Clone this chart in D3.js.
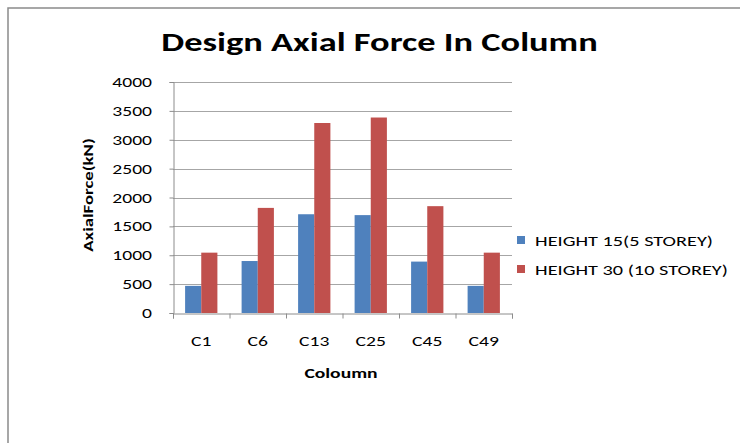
<!DOCTYPE html>
<html>
<head>
<meta charset="utf-8">
<script src="https://cdn.jsdelivr.net/npm/d3@7"></script>
<style>
  html, body { margin: 0; padding: 0; background: #fff; }
  svg { display: block; }
  text { font-family: Carlito, Calibri, Lato, "Open Sans", sans-serif; fill: #000; }
</style>
</head>
<body>
<script>
// Column labels and design axial forces (kN)
const columns = ["C1", "C6", "C13", "C25", "C45", "C49"];
const seriesNames = ["HEIGHT 15(5 STOREY)", "HEIGHT 30 (10 STOREY)"];
const height15 = [470, 900, 1710, 1695, 890, 470];
const height30 = [1045, 1820, 3290, 3385, 1850, 1045];
const seriesColors = ["#4F81BD", "#C0504D"];
const yTicks = [0, 500, 1000, 1500, 2000, 2500, 3000, 3500, 4000];

const W = 740, H = 443;
const plot = { left: 173, right: 512, top: 82, bottom: 313 };
const SX = 1.4; // horizontal stretch applied to text glyphs

const svg = d3.select("body").append("svg").attr("width", W).attr("height", H);

// outer chart frame
svg.append("rect")
  .attr("x", 8).attr("y", 8).attr("width", 800).attr("height", 600)
  .attr("fill", "none").attr("stroke", "#8a8a8a").attr("stroke-width", 1.5);

const x0 = d3.scaleBand().domain(columns)
  .range([plot.left, plot.right]).paddingInner(1.5 / 3.5).paddingOuter(0.75 / 3.5);
const x1 = d3.scaleBand().domain([0, 1]).range([0, x0.bandwidth()]);
const y = d3.scaleLinear().domain([0, 4000]).range([plot.bottom, plot.top]);

// stretched text helper
function label(g, tx, ty, str, opts = {}) {
  return g.append("text")
    .attr("transform", `translate(${tx},${ty}) rotate(${opts.rotate || 0}) scale(${opts.sx || SX},1)`)
    .attr("text-anchor", opts.anchor || "middle")
    .attr("font-size", opts.size || 14)
    .attr("font-weight", opts.weight || "normal")
    .text(str);
}

// gridlines
svg.append("g").selectAll("line").data(yTicks.slice(1)).join("line")
  .attr("x1", plot.left).attr("x2", plot.right)
  .attr("y1", d => Math.round(y(d)) + 0.5).attr("y2", d => Math.round(y(d)) + 0.5)
  .attr("stroke", "#a6a6a6").attr("stroke-width", 1);

// y axis
const yAxis = svg.append("g").attr("transform", `translate(${plot.left + 0.5},0)`)
  .call(d3.axisLeft(y).tickValues(yTicks).tickSize(4).tickFormat(""));
yAxis.select(".domain").attr("stroke", "#8c8c8c");
yAxis.selectAll(".tick line").attr("stroke", "#8c8c8c");
yTicks.forEach(t => label(svg, 152, y(t) + 5, String(t), { anchor: "end" }));

// bars
const data = columns.map((c, i) => ({ col: c, vals: [height15[i], height30[i]] }));
const groups = svg.append("g").selectAll("g").data(data).join("g")
  .attr("transform", d => `translate(${x0(d.col)},0)`);
groups.selectAll("rect").data(d => d.vals.map((v, s) => ({ v, s }))).join("rect")
  .attr("x", d => x1(d.s)).attr("width", x1.bandwidth())
  .attr("y", d => y(d.v)).attr("height", d => y(0) - y(d.v))
  .attr("fill", d => seriesColors[d.s]);

// x axis
const xAxis = svg.append("g").attr("transform", `translate(0,${plot.bottom + 0.5})`)
  .call(d3.axisBottom(d3.scaleLinear().domain([0, columns.length]).range([plot.left, plot.right]))
    .tickValues(d3.range(columns.length + 1)).tickSize(5).tickFormat(""));
xAxis.select(".domain").attr("stroke", "#8c8c8c");
xAxis.selectAll(".tick line").attr("stroke", "#8c8c8c");
columns.forEach(c => label(svg, x0(c) + x0.bandwidth() / 2, 346, c));

// titles
label(svg, 379.5, 51, "Design Axial Force In Column", { size: 26, weight: "bold", sx: 1.4 });
label(svg, 341, 378, "Coloumn", { size: 14, weight: "bold" });
label(svg, 93, 195, "AxialForce(kN)", { size: 14, weight: "bold", rotate: -90, sx: 1.34 });

// legend
seriesNames.forEach((n, i) => {
  const ly = 240 + i * 29;
  svg.append("rect").attr("x", 517).attr("y", ly - 4).attr("width", 8).attr("height", 8)
    .attr("fill", seriesColors[i]);
  label(svg, 535, ly + 6, n, { anchor: "start", sx: 1.45 });
});
</script>
</body>
</html>
